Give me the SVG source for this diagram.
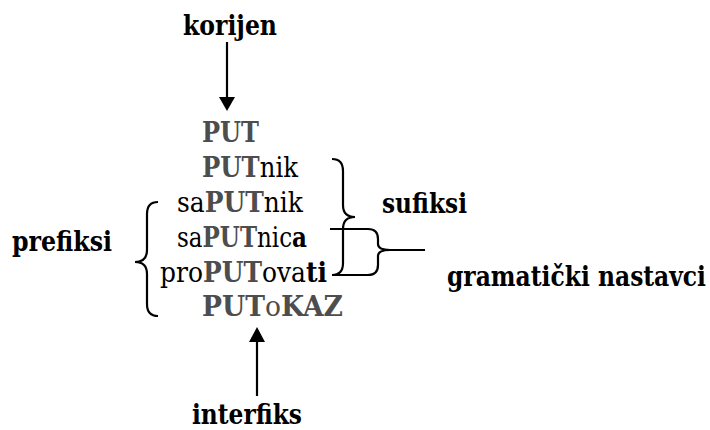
<svg xmlns="http://www.w3.org/2000/svg" width="710" height="430" viewBox="0 0 710 430">
<style>
text{font-family:"DejaVu Serif",serif;font-size:27px;fill:#000}
.b{font-weight:bold}
.g{fill:#4d4d4d}
.ln{fill:none;stroke:#000;stroke-width:2.2}
</style>
<rect width="710" height="430" fill="#fff"/>
<g id="korijen"><text class="b" x="183" y="35" textLength="94" lengthAdjust="spacingAndGlyphs">korijen</text></g>
<g id="words">
<text x="202" y="142" textLength="57" lengthAdjust="spacingAndGlyphs"><tspan class="b g">PUT</tspan></text>
<text x="202" y="177" textLength="96" lengthAdjust="spacingAndGlyphs"><tspan class="b g">PUT</tspan>nik</text>
<text x="177" y="212" textLength="126" lengthAdjust="spacingAndGlyphs">sa<tspan class="b g">PUT</tspan>nik</text>
<text x="177" y="247" textLength="130" lengthAdjust="spacingAndGlyphs">sa<tspan class="b g">PUT</tspan>nic<tspan class="b">a</tspan></text>
<text x="160" y="282" textLength="167" lengthAdjust="spacingAndGlyphs">pro<tspan class="b g">PUT</tspan>ova<tspan class="b">ti</tspan></text>
<text x="202" y="316" textLength="141" lengthAdjust="spacingAndGlyphs"><tspan class="b g">PUT</tspan><tspan class="g">o</tspan><tspan class="b g">KAZ</tspan></text>
</g>
<g id="prefiksi"><text class="b" x="12" y="251" textLength="100" lengthAdjust="spacingAndGlyphs">prefiksi</text></g>
<g id="sufiksi"><text class="b" x="382" y="213" textLength="85" lengthAdjust="spacingAndGlyphs">sufiksi</text></g>
<g id="gramaticki"><text class="b" x="447" y="286" textLength="259" lengthAdjust="spacingAndGlyphs">gramatički nastavci</text></g>
<g id="interfiks"><text class="b" x="192" y="424" textLength="110" lengthAdjust="spacingAndGlyphs">interfiks</text></g>
<g id="connectors">
<line class="ln" x1="227" y1="42" x2="227" y2="98"/>
<polygon points="219,97 235,97 227,111" fill="#000"/>
<line class="ln" x1="257" y1="340" x2="257" y2="396"/>
<polygon points="249,342 265,342 257,327" fill="#000"/>
<path class="ln" d="M158,202 Q147,202 147,214 L147,250 Q147,262 135,262 Q147,262 147,274 L147,304 Q147,316 158,316"/>
<path class="ln" d="M332,159 Q343,159 343,171 L343,205 Q343,217 355,217 Q343,217 343,229 L343,263 Q343,275 332,275"/>
<path class="ln" d="M330,229 L368,229 Q378,229 378,239 L378,244 Q378,250 390,250 L425,250 M390,250 Q378,250 378,256 L378,265 Q378,275 368,275 L333,275"/>
</g>
</svg>
